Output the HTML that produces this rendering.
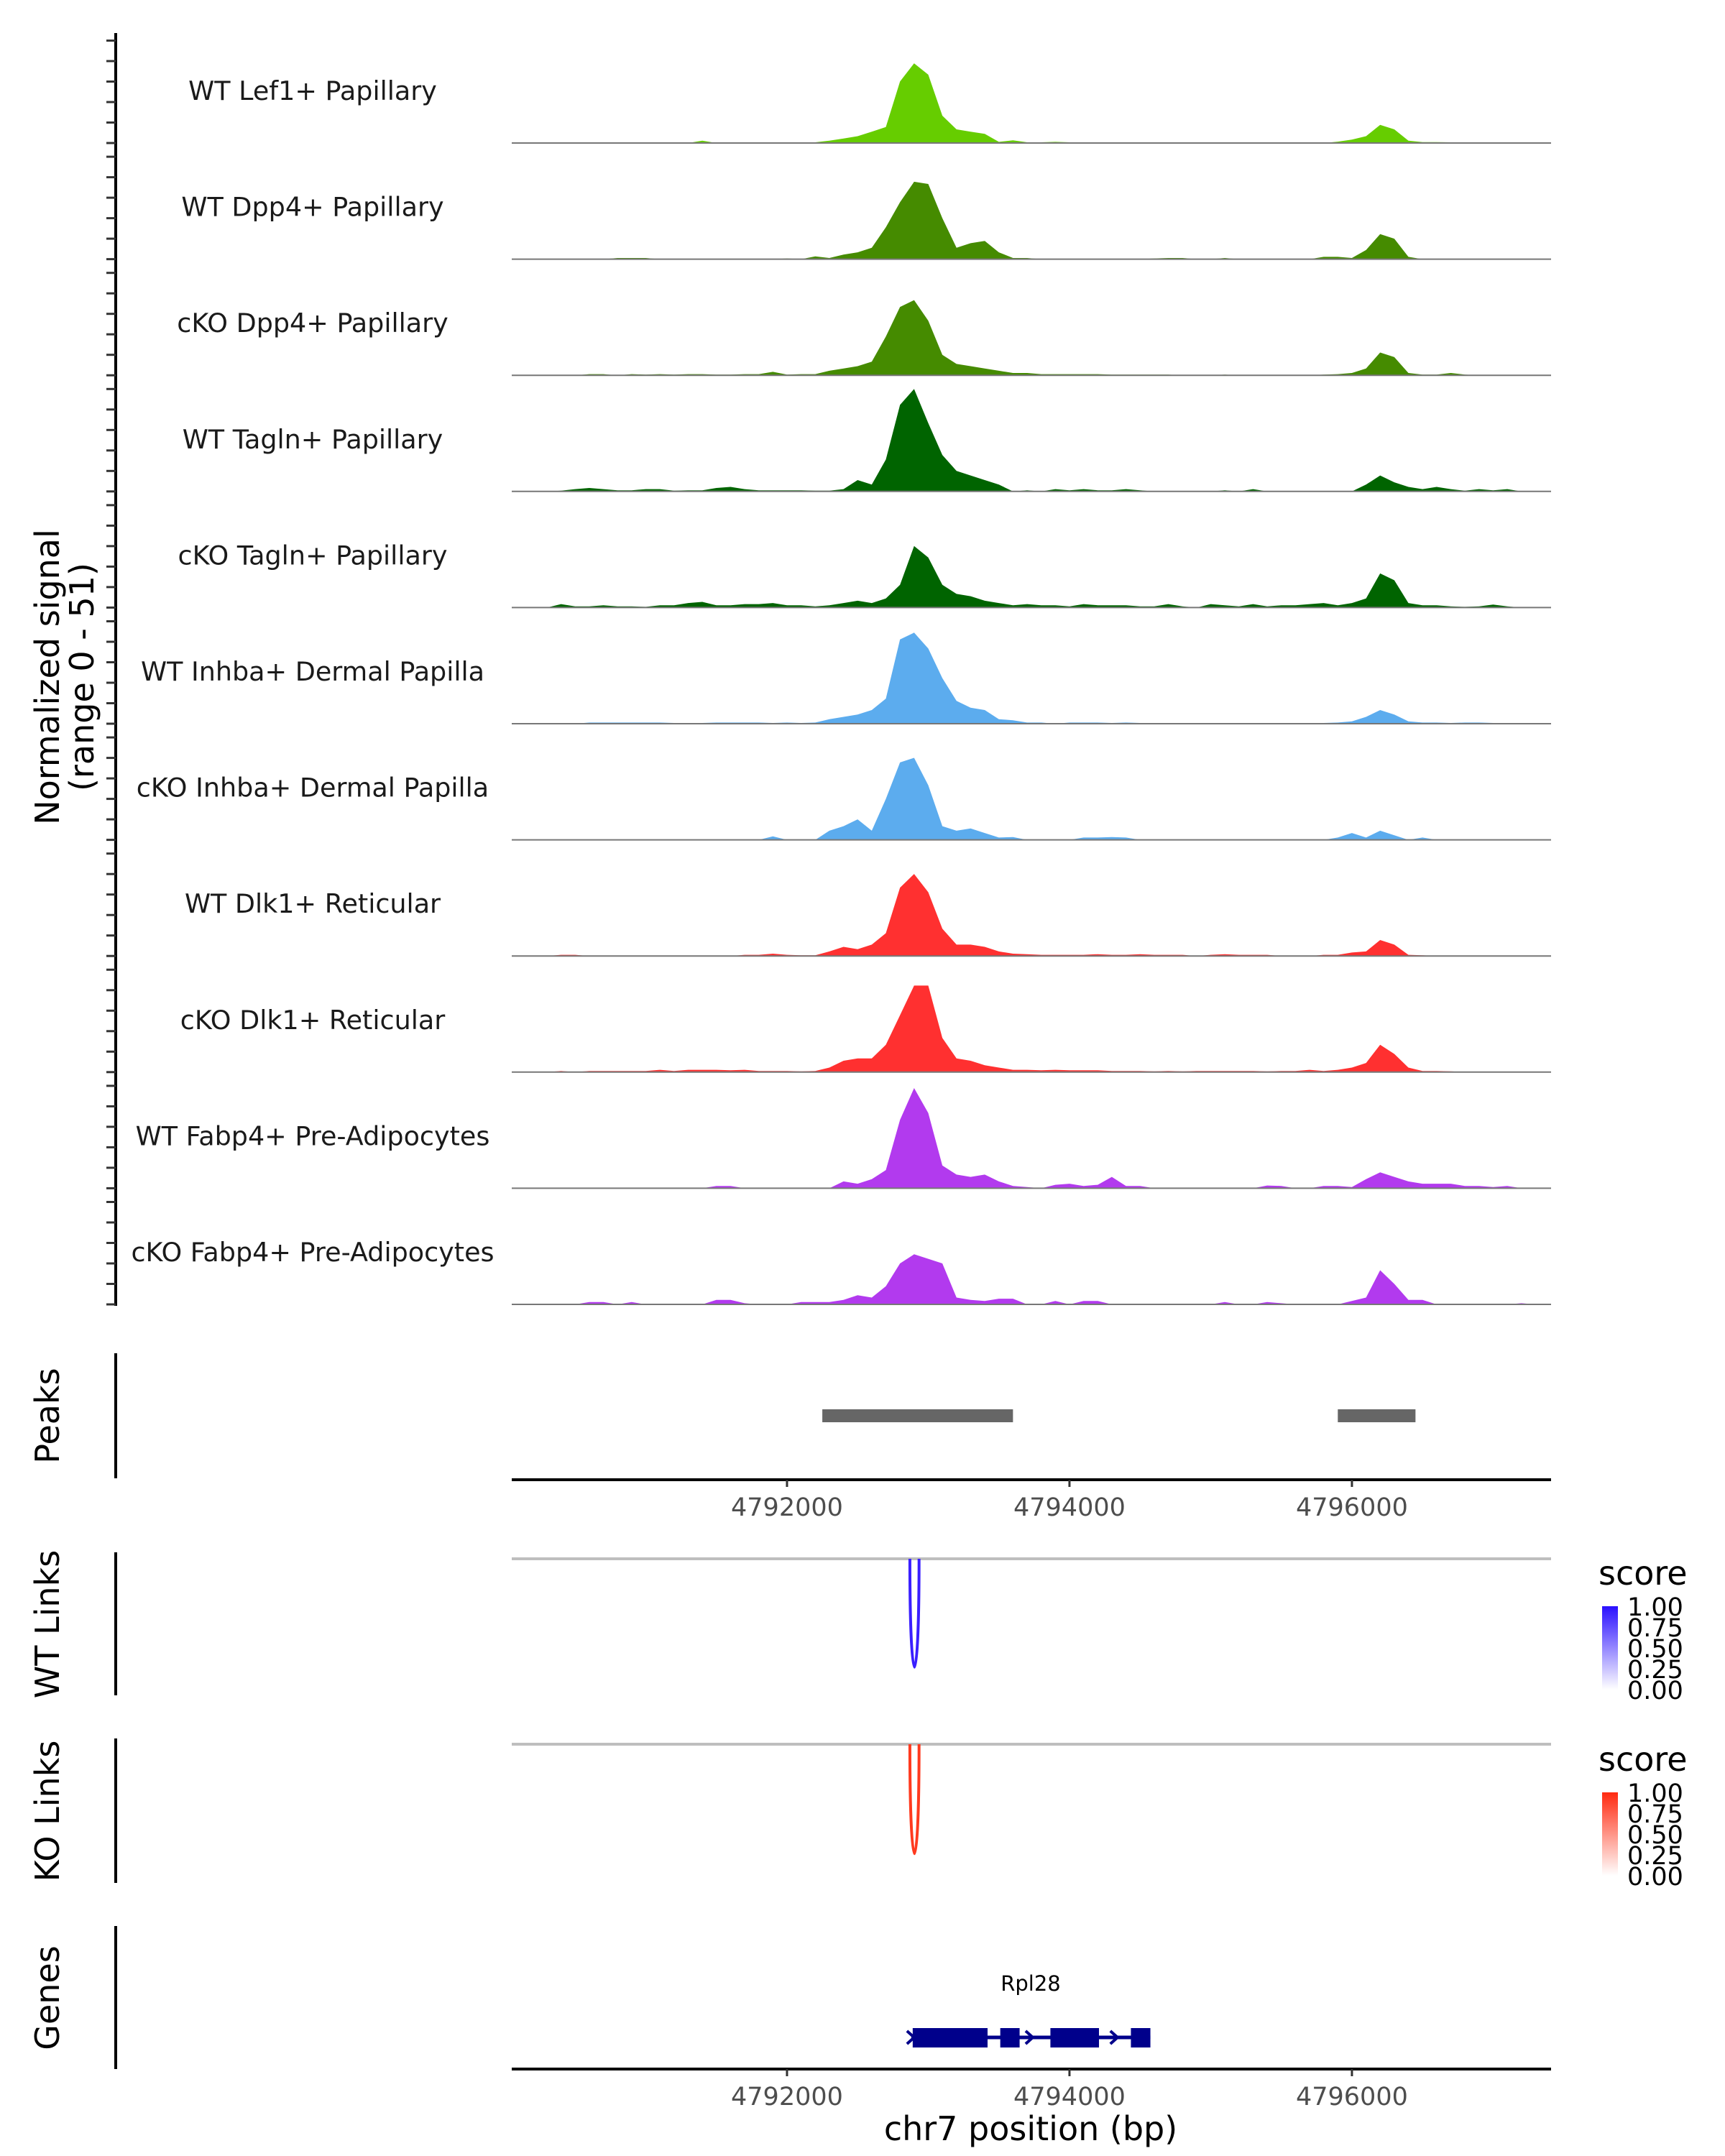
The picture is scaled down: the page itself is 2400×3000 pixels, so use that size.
<!DOCTYPE html>
<html><head><meta charset="utf-8"><style>
html,body{margin:0;padding:0;background:#fff;}
svg{display:block;font-family:"DejaVu Sans","Liberation Sans",sans-serif;}
</style></head><body>
<svg id="chart" width="2400" height="3000" viewBox="0 0 2400 3000" xmlns="http://www.w3.org/2000/svg">
<g id="tracks"></g>
<g id="leftaxis"></g>
<text transform="translate(82,942) rotate(-90)" text-anchor="middle" font-size="46" fill="#000">Normalized signal</text>
<text transform="translate(130,942) rotate(-90)" text-anchor="middle" font-size="46" fill="#000">(range 0 - 51)</text>

<g>
<line x1="161" y1="1883" x2="161" y2="2057" stroke="#000" stroke-width="4"/>
<text transform="translate(82,1970) rotate(-90)" text-anchor="middle" font-size="46">Peaks</text>
<g id="peaks"></g>
</g>
<g id="axis1"></g>

<g>
<line x1="161" y1="2160" x2="161" y2="2359" stroke="#000" stroke-width="4"/>
<text transform="translate(82,2260) rotate(-90)" text-anchor="middle" font-size="46">WT Links</text>
<line x1="712" y1="2169" x2="2158" y2="2169" stroke="#bebebe" stroke-width="4"/>
<g id="wtlinks"></g>
</g>
<g>
<line x1="161" y1="2419" x2="161" y2="2620" stroke="#000" stroke-width="4"/>
<text transform="translate(82,2520) rotate(-90)" text-anchor="middle" font-size="46">KO Links</text>
<line x1="712" y1="2427" x2="2158" y2="2427" stroke="#bebebe" stroke-width="4"/>
<g id="kolinks"></g>
</g>

<defs>
<linearGradient id="gb" x1="0" y1="1" x2="0" y2="0"><stop offset="0" stop-color="#ffffff"/><stop offset="1" stop-color="#2a10ff"/></linearGradient>
<linearGradient id="gr" x1="0" y1="1" x2="0" y2="0"><stop offset="0" stop-color="#ffffff"/><stop offset="1" stop-color="#ff2a10"/></linearGradient>
</defs>
<g>
<text x="2224" y="2205" font-size="46">score</text>
<rect x="2229" y="2235" width="22" height="116" fill="url(#gb)"/>
<g font-size="35" fill="#000">
<text x="2264" y="2248">1.00</text><text x="2264" y="2277">0.75</text><text x="2264" y="2306">0.50</text><text x="2264" y="2335">0.25</text><text x="2264" y="2364">0.00</text></g>
</g>
<g>
<text x="2224" y="2464" font-size="46">score</text>
<rect x="2229" y="2494" width="22" height="116" fill="url(#gr)"/>
<g font-size="35" fill="#000">
<text x="2264" y="2507">1.00</text><text x="2264" y="2536">0.75</text><text x="2264" y="2565">0.50</text><text x="2264" y="2594">0.25</text><text x="2264" y="2623">0.00</text></g>
</g>

<g>
<line x1="161" y1="2680" x2="161" y2="2879" stroke="#000" stroke-width="4"/>
<text transform="translate(82,2780) rotate(-90)" text-anchor="middle" font-size="46">Genes</text>
<text x="1434" y="2770" text-anchor="middle" font-size="29">Rpl28</text>
<g id="genes"></g>
</g>
<g id="axis2"></g>
<text x="1434" y="2978" text-anchor="middle" font-size="46">chr7 position (bp)</text>
</svg>
<script>
const NS="http://www.w3.org/2000/svg";
const trackNames=["WT Lef1+ Papillary","WT Dpp4+ Papillary","cKO Dpp4+ Papillary","WT Tagln+ Papillary","cKO Tagln+ Papillary","WT Inhba+ Dermal Papilla","cKO Inhba+ Dermal Papilla","WT Dlk1+ Reticular","cKO Dlk1+ Reticular","WT Fabp4+ Pre-Adipocytes","cKO Fabp4+ Pre-Adipocytes"];
const trackColors=["#66CD00","#458B00","#458B00","#006400","#006400","#5CACEE","#5CACEE","#FF3030","#FF3030","#B23AEE","#B23AEE"];
const binStart=4790100, binSize=100;
const t1=[0,0,0,0,0,0,0,0.3,0,0, 0,0,0,1,0,0,0,0.3,0,0, 0,0.3,1,2,3,5,7,27,35,30, 12,6,5,4,0.5,1.2,0.3,0.3,0.5,0.3, 0.3,0.2,0.3,0.3,0.2,0.2,0.3,0.2,0,0, 0,0,0,0,0.3,0,0,0,0.6,1.5, 3,8,6,1,0.4,0.4,0.3,0,0,0, 0,0,0];
const t2=[0,0,0,0,0,0,0,0.5,0.5,0.5, 0,0,0,0,0,0,0,0,0,0.3, 0,1.2,0.5,2,3,5,14,25,34,33, 18,5,7,8,3,0.5,0.5,0,0,0, 0,0,0,0,0,0.3,0.5,0.5,0,0, 0.5,0,0,0,0,0,0,1,1,0.5, 4,11,9,1,0,0,0,0,0,0, 0,0,0];
const t3=[0,0,0,0,0,0.5,0.5,0,0.5,0.3, 0.5,0.3,0.5,0.5,0.3,0.3,0.5,0.5,1.5,0.3, 0.5,0.5,2,3,4,6,17,30,33,24, 9,5,4,3,2,1,1,0.5,0.5,0.5, 0.5,0.5,0.3,0.3,0.3,0.3,0.3,0,0,0, 0.3,0,0,0,0,0,0,0.3,0.5,1, 3,10,8,1,0.3,0.3,1,0.3,0,0, 0,0,0];
const t4=[0,0,0,0.3,1,1.5,1,0.5,0.5,1, 1,0.3,0.5,0.5,1.5,2,1,0.5,0.5,0.5, 0.5,0.3,0.3,1,5,3,14,38,45,30, 16,9,7,5,3,0,0.5,0,1,0.5, 1,0.5,0.5,1,0.5,0,0,0,0,0, 0.5,0,1,0,0,0,0,0,0,0, 3,7,4,2,1,2,1,0.3,1,0.5, 1,0,0];
const t5=[0,0,0,1.5,0.5,0.5,1,0.5,0.5,0.3, 1,1,2,2.5,1,1,1.5,1.5,2,1, 1,0.5,1,2,3,2,4,10,27,22, 10,6,5,3,2,1,1.5,1,1,0.5, 1.5,1,1,1,0.5,0.5,1.5,0.5,0,1.5, 1,0.5,1.5,0.5,1,1,1.5,2,1,2, 4,15,12,2,1,1,0.5,0.3,0.5,1.3, 0.5,0,0];
const t6=[0,0,0,0,0,0.5,0.5,0.5,0.5,0.5, 0.5,0.3,0.3,0.3,0.5,0.5,0.5,0.5,0.3,0.5, 0.3,0.5,2,3,4,6,11,37,40,33, 20,10,7,6,2,1.5,0.5,0.5,0,0.5, 0.5,0.5,0.3,0.5,0.3,0,0,0,0,0, 0,0.3,0,0,0,0,0,0.3,0.5,1, 3,6,4,1,0.5,0.5,0.3,0.5,0.5,0.3, 0.3,0,0];
const t7=[0,0,0,0,0,0,0,0,0,0, 0,0,0,0,0,0,0,0,1.5,0, 0,0,4,6,9,4,18,34,36,24, 6,4,5,3,1,1.2,0,0,0,0, 1,1,1.2,1,0,0,0,0,0,0, 0,0,0,0,0,0,0,0,1,3, 1,4,2,0,1,0,0,0,0,0, 0,0,0];
const t8=[0,0,0,0.5,0.5,0,0,0,0,0, 0,0,0,0,0,0,0.5,0.5,1,0.5, 0.3,0.3,2,4,3,5,10,30,36,28, 12,5,5,4,2,1,0.8,0.5,0.5,0.5, 0.5,0.8,0.5,0.5,0.8,0.5,0.5,0.5,0,0.5, 0.8,0.5,0.5,0.5,0,0,0,0.5,0.5,1.5, 2,7,5,0.5,0.3,0,0,0,0,0, 0,0,0];
const t9=[0,0,0,0.5,0,0.5,0.5,0.5,0.5,0.5, 1,0.5,1,1,1,0.8,1,0.5,0.5,0.5, 0.3,0.5,2,5,6,6,12,25,38,38, 15,6,5,3,2,1,1,0.8,1,0.8, 0.8,0.8,0.5,0.5,0.5,0.3,0.5,0.3,0.5,0.5, 0.5,0.5,0.5,0.3,0.5,0.5,1,0.5,1,2, 4,12,8,2,0.5,0.5,0.3,0,0,0, 0,0,0];
const t10=[0,0,0,0,0,0,0,0,0,0, 0,0,0,0,1,1,0,0,0,0, 0,0,0,3,2,4,8,30,44,33, 10,6,5,6,3,1,0.5,0,1.5,2, 1,1.5,5,1,1,0,0,0,0,0, 0,0,0,1.2,1,0,0,1,1,0.5, 4,7,5,3,2,2,2,1,1,0.5, 1,0,0];
const t11=[0,0,0,0,0,1,1,0,1,0, 0,0,0,0,2,2,0.5,0,0,0, 1,1,1,2,4,3,8,18,22,20, 18,3,2,1.5,2.5,2.5,0,0,1.5,0, 1.5,1.5,0,0,0,0,0,0,0,0, 1,0,0,1,0.5,0,0,0,0,1.5, 3,15,9,2,2,0,0,0,0,0, 0,0.5,0];
const trackValues=[t1,t2,t3,t4,t5,t6,t7,t8,t9,t10,t11];
const xTicks=[4792000,4794000,4796000];
const xTickLabels=["4792000","4794000","4796000"];
const peakStarts=[4792250,4795900];
const peakEnds=[4793600,4796450];
const wtLinkStart=[4792870], wtLinkEnd=[4792935], wtLinkScore=[0.85];
const koLinkStart=[4792870], koLinkEnd=[4792935], koLinkScore=[0.8];
const exonStarts=[4792890,4793510,4793865,4794435];
const exonEnds=[4793420,4793647,4794209,4794573];
const geneStart=4792880, geneEnd=4794573;

const xMin=4790051, xMax=4797410, X0=712, X1=2158;
const x=bp=>X0+(bp-xMin)/(xMax-xMin)*(X1-X0);
const yMax=51, trackH=161.6, base0=199;
const mk=(t,p,a)=>{const e=document.createElementNS(NS,t);for(const k in a)e.setAttribute(k,a[k]);p.appendChild(e);return e;};

const tracks=document.getElementById('tracks');
trackNames.forEach((nm,ti)=>{
  const b=base0+ti*trackH;
  const g=mk('g',tracks,{});
  
  
  const vals=trackValues[ti];
  let d='M'+x(binStart-binSize/2)+','+b;
  vals.forEach((v,i)=>{const bp=binStart+i*binSize;d+=' L'+x(bp).toFixed(1)+','+(b-v/yMax*trackH).toFixed(1);});
  d+=' L'+x(binStart+(vals.length-0.5)*binSize)+','+b+' Z';
  const p=mk('path',g,{d:d,fill:trackColors[ti]});
  
  
  mk('line',g,{x1:X0,x2:X1,y1:b,y2:b,stroke:'#777','stroke-width':2});
  const t=mk('text',g,{x:435,y:b-60,'text-anchor':'middle','font-size':36.5,fill:'#1a1a1a'});
  t.textContent=nm;
  
  
});
const la=document.getElementById('leftaxis');
mk('line',la,{x1:161,x2:161,y1:46,y2:base0+10*trackH+2,stroke:'#000','stroke-width':4});
for(let ti=0;ti<11;ti++){const b=base0+ti*trackH;for(let k=0;k<6;k++){const y=b-k*28.5;mk('line',la,{x1:148,x2:161,y1:y,y2:y,stroke:'#333','stroke-width':3});}}

const pk=document.getElementById('peaks');
peakStarts.forEach((s,i)=>{const r=mk('rect',pk,{x:x(s),y:1961,width:x(peakEnds[i])-x(s),height:18,fill:'#666'});

});

function axis(id,y){const g=document.getElementById(id);
  mk('line',g,{x1:X0,x2:X1,y1:y,y2:y,stroke:'#000','stroke-width':4});
  xTicks.forEach((v,i)=>{mk('line',g,{x1:x(v),x2:x(v),y1:y,y2:y+10,stroke:'#333','stroke-width':3});
   const t=mk('text',g,{x:x(v),y:y+50,'text-anchor':'middle','font-size':35,fill:'#4d4d4d'});t.textContent=xTickLabels[i];
   
   });}
axis('axis1',2059);axis('axis2',2879);

function links(id,s,e,top,bot,col){const g=document.getElementById(id);
  s.forEach((a,i)=>{const x1=x(a),x2=x(e[i]);
   const p=mk('path',g,{d:`M${x1},${top} C${x1},${bot+20} ${x2},${bot+20} ${x2},${top}`,fill:'none',stroke:col,'stroke-width':4});
   
   });}
links('wtlinks',wtLinkStart,wtLinkEnd,2169,2350,'#3a1fff');
links('kolinks',koLinkStart,koLinkEnd,2427,2610,'#ff3a1f');

const gn=document.getElementById('genes');
mk('line',gn,{x1:x(geneStart),x2:x(geneEnd),y1:2835,y2:2835,stroke:'#00008B','stroke-width':5});
exonStarts.forEach((s,i)=>{const e=exonEnds[i];
 const r=mk('rect',gn,{x:x(s),y:2822,width:x(e)-x(s),height:27,fill:'#00008B'});
 
 });
[4792880,4793720,4794320].forEach(v=>{const cx=x(v);mk('path',gn,{d:`M${cx-6},${2826} L${cx+4},2835 L${cx-6},2844`,fill:'none',stroke:'#00008B','stroke-width':4});});
</script>
</body></html>
